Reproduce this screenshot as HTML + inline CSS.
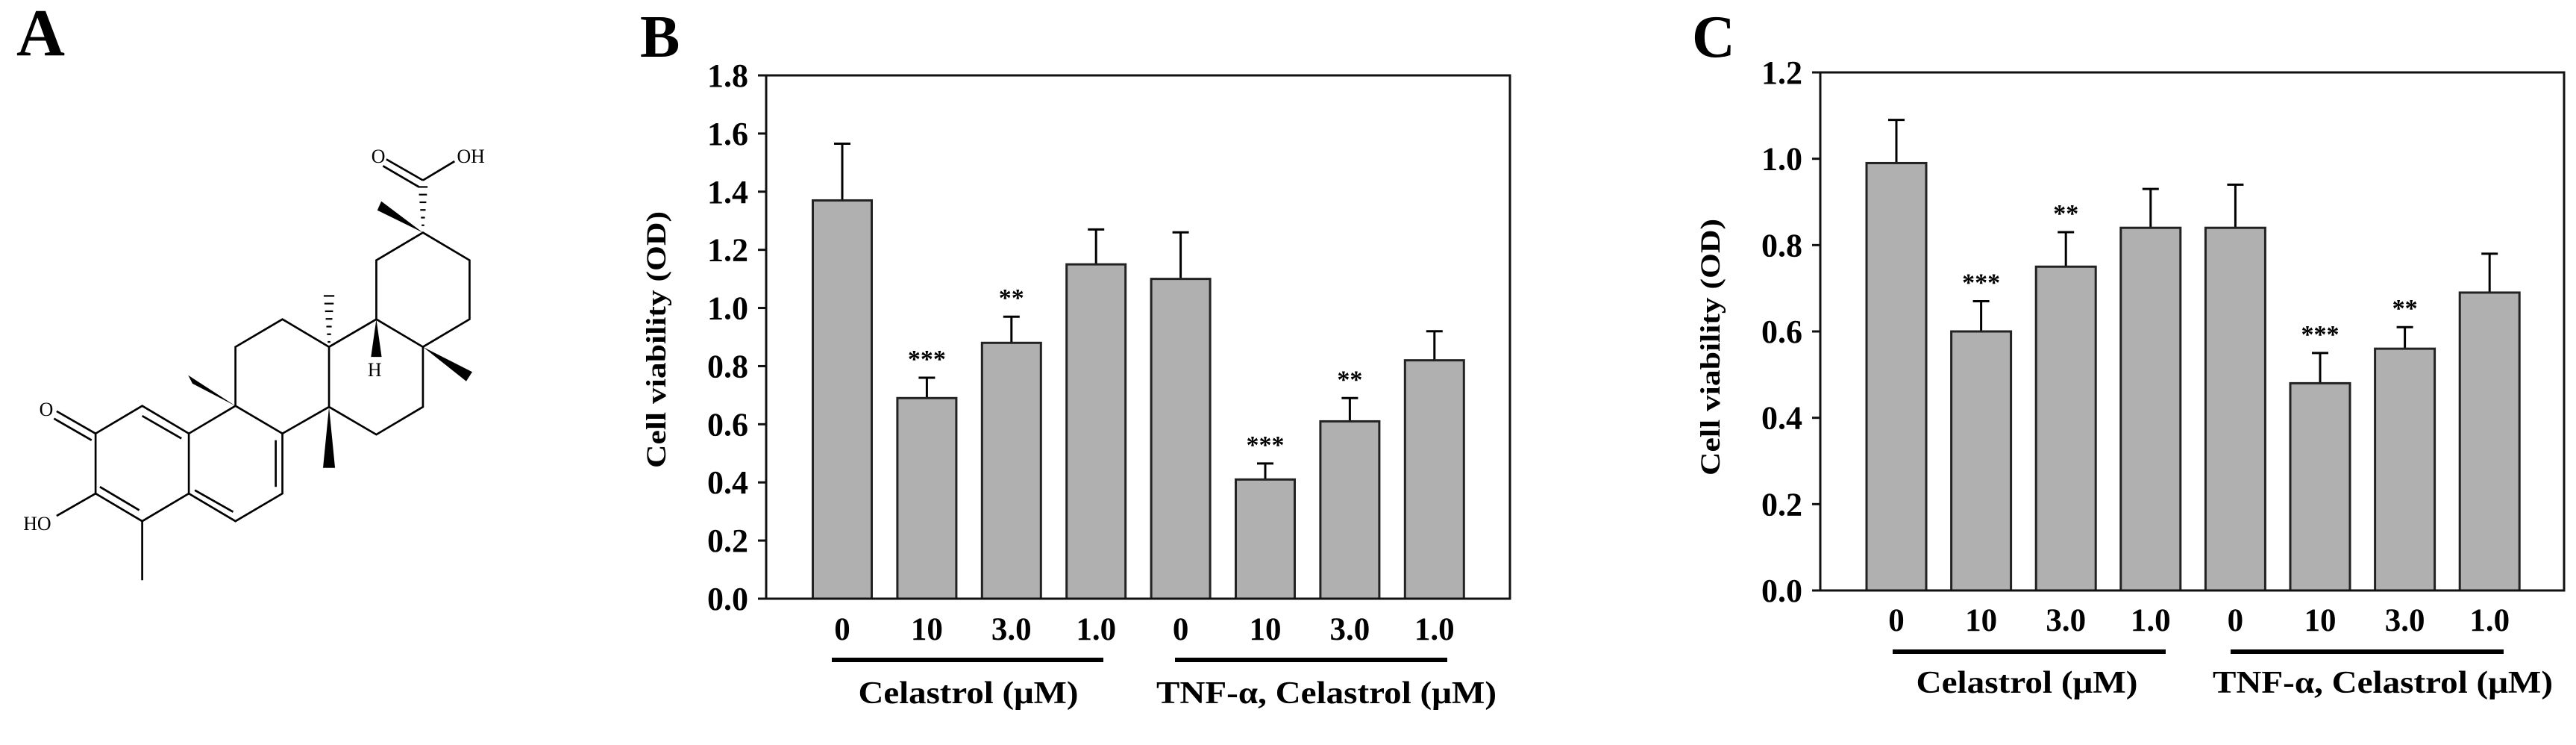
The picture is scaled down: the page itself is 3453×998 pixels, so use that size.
<!DOCTYPE html>
<html><head><meta charset="utf-8"><style>
html,body{margin:0;padding:0;background:#fff;}
svg{display:block;font-family:"Liberation Serif","DejaVu Serif",serif;}
</style></head><body>
<svg id="fig" width="3453" height="998" viewBox="0 0 3453 998" xmlns="http://www.w3.org/2000/svg">
<rect width="3453" height="998" fill="#fff"/>
<text x="22" y="74" font-size="90" font-weight="bold">A</text>
<text x="858" y="76" font-size="80" font-weight="bold">B</text>
<text x="2268" y="76" font-size="80" font-weight="bold">C</text>
<g id="mol" transform="translate(0,150) scale(0.4464)" stroke="#000" stroke-width="6" fill="none">
<polyline points="287,965 427,882 567,965 567,1145 427,1228 287,1145 287,965"/>
<line x1="427" y1="912" x2="545" y2="980"/>
<line x1="300" y1="1125" x2="418" y2="1195"/>
<line x1="287" y1="965" x2="170" y2="898"/>
<line x1="275" y1="985" x2="162" y2="920"/>
<line x1="287" y1="1145" x2="170" y2="1212"/>
<line x1="427" y1="1228" x2="427" y2="1405"/>
<polyline points="567,965 707,882 848,965 848,1145 707,1228 567,1145"/>
<line x1="828" y1="985" x2="828" y2="1125"/>
<line x1="585" y1="1135" x2="700" y2="1200"/>
<polyline points="707,882 707,705 848,622 988,705 988,885 848,965"/>
<polyline points="988,705 1130,622 1270,705 1270,885 1130,968 988,885"/>
<polyline points="1130,622 1130,445 1270,362 1410,445 1410,622 1270,705"/>
<line x1="1270" y1="205" x2="1160" y2="142"/>
<line x1="1258" y1="225" x2="1150" y2="162"/>
<line x1="1270" y1="205" x2="1365" y2="148"/>
</g>
<g id="molfill" transform="translate(0,150) scale(0.4464)" fill="#000">
<polygon points="707,882 565,790 578,815"/>
<polygon points="988,885 970,1068 1006,1068"/>
<polygon points="1130,622 1114,735 1146,735"/>
<polygon points="1270,705 1418,780 1400,808"/>
<polygon points="1270,362 1145,268 1133,295"/>
<g stroke="#000" stroke-width="5">
<line x1="972" y1="552" x2="1004" y2="552"/><line x1="974" y1="575" x2="1002" y2="575"/><line x1="976" y1="598" x2="1000" y2="598"/><line x1="978" y1="621" x2="998" y2="621"/><line x1="980" y1="644" x2="996" y2="644"/><line x1="982" y1="667" x2="994" y2="667"/><line x1="984" y1="690" x2="992" y2="690"/>
<line x1="1256" y1="225" x2="1284" y2="225"/><line x1="1258" y1="248" x2="1282" y2="248"/><line x1="1260" y1="271" x2="1280" y2="271"/><line x1="1262" y1="294" x2="1278" y2="294"/><line x1="1264" y1="317" x2="1276" y2="317"/><line x1="1266" y1="340" x2="1274" y2="340"/>
</g>
<text x="118" y="912" font-size="58">O</text>
<text x="70" y="1255" font-size="58">HO</text>
<text x="1104" y="793" font-size="58">H</text>
<text x="1115" y="152" font-size="58">O</text>
<text x="1372" y="152" font-size="58">OH</text>
</g>
<g id="chartB"></g>
<g id="chartC"></g>
</svg>
<script>
const NS = "http://www.w3.org/2000/svg";
const categories = ["0","10","3.0","1.0","0","10","3.0","1.0"];
const groupLabels = ["Celastrol (μM)","TNF-α, Celastrol (μM)"];
const valuesB = [1.37,0.69,0.88,1.15,1.10,0.41,0.61,0.82];
const errorTopB = [1.565,0.76,0.97,1.27,1.26,0.465,0.69,0.92];
const starsB = ["","***","**","","","***","**",""];
const ticksB = ["0.0","0.2","0.4","0.6","0.8","1.0","1.2","1.4","1.6","1.8"];
const valuesC = [0.99,0.60,0.75,0.84,0.84,0.48,0.56,0.69];
const errorTopC = [1.09,0.67,0.83,0.93,0.94,0.55,0.61,0.78];
const starsC = ["","***","**","","","***","**",""];
const ticksC = ["0.0","0.2","0.4","0.6","0.8","1.0","1.2"];

function mk(parent, tag, attrs, txt){
  const e = document.createElementNS(NS, tag);
  for (const k in attrs) e.setAttribute(k, attrs[k]);
  if (txt !== undefined) e.textContent = txt;
  parent.appendChild(e); return e;
}
function drawChart(g, cfg, values, errTop, stars, ticks){
  const yMax = parseFloat(ticks[ticks.length-1]);
  const y = v => cfg.bottom - v / yMax * (cfg.bottom - cfg.top);
  const x = i => cfg.x0 + i * cfg.step;
  // bars
  values.forEach((v,i)=>{
    const eb = mk(g,"line",{x1:x(i),x2:x(i),y1:y(v),y2:y(errTop[i]),stroke:"#000","stroke-width":3});
    
    
    const cap = mk(g,"line",{x1:x(i)-11,x2:x(i)+11,y1:y(errTop[i]),y2:y(errTop[i]),stroke:"#000","stroke-width":3});
    
    
    const r = mk(g,"rect",{x:x(i)-cfg.bw/2,y:y(v),width:cfg.bw,height:cfg.bottom-y(v),fill:"#b0b0b0",stroke:"#222","stroke-width":3});
    
    
    if (stars[i]) {
      const s = mk(g,"text",{x:x(i),y:y(errTop[i])-cfg.starOff,"font-size":34,"font-weight":"bold","text-anchor":"middle"},stars[i]);
      
      
    }
    const t = mk(g,"text",{x:x(i),y:cfg.labelY,"font-size":43,"font-weight":"bold","text-anchor":"middle"},categories[i]);
    
    
  });
  // frame
  const fr = mk(g,"rect",{x:cfg.left,y:cfg.top,width:cfg.right-cfg.left,height:cfg.bottom-cfg.top,fill:"none",stroke:"#111","stroke-width":3});
  
  
  ticks.forEach(tk=>{
    const v = parseFloat(tk);
    const l = mk(g,"line",{x1:cfg.left-11,x2:cfg.left,y1:y(v),y2:y(v),stroke:"#111","stroke-width":3});
    
    
    const t = mk(g,"text",{x:cfg.left-24,y:y(v)+15,"font-size":44,"font-weight":"bold","text-anchor":"end"},tk);
    
    
  });
  const yt = mk(g,"text",{x:0,y:0,"font-size":37,"font-weight":"bold","text-anchor":"middle",textLength:344,lengthAdjust:"spacingAndGlyphs",transform:`translate(${cfg.titleX},${cfg.titleY}) rotate(-90)`},"Cell viability (OD)");
  
  
  cfg.groups.forEach((gr,k)=>{
    const ln = mk(g,"line",{x1:gr.x1,x2:gr.x2,y1:cfg.lineY,y2:cfg.lineY,stroke:"#000","stroke-width":6});
    
    
    const t = mk(g,"text",{x:gr.cx,y:cfg.groupY,"font-size":42,"font-weight":"bold","text-anchor":"middle",textLength:gr.len,lengthAdjust:"spacingAndGlyphs"},groupLabels[k]);
    
    
  });
}
drawChart(document.getElementById("chartB"),
 {left:1027,right:2024,top:101,bottom:802,x0:1129,step:113.4,bw:79,starOff:14,labelY:857,lineY:884,groupY:942,titleX:892,titleY:455,
  groups:[{x1:1115,x2:1479,cx:1298,len:295},{x1:1575,x2:1940,cx:1778,len:456}]},
 valuesB, errorTopB, starsB, ticksB);
drawChart(document.getElementById("chartC"),
 {left:2440,right:3437,top:97,bottom:791,x0:2542,step:113.6,bw:80,starOff:14,labelY:845,lineY:873,groupY:928,titleX:2305,titleY:465,
  groups:[{x1:2537,x2:2903,cx:2717,len:297},{x1:2990,x2:3356,cx:3194,len:456}]},
 valuesC, errorTopC, starsC, ticksC);
</script>
</body></html>
